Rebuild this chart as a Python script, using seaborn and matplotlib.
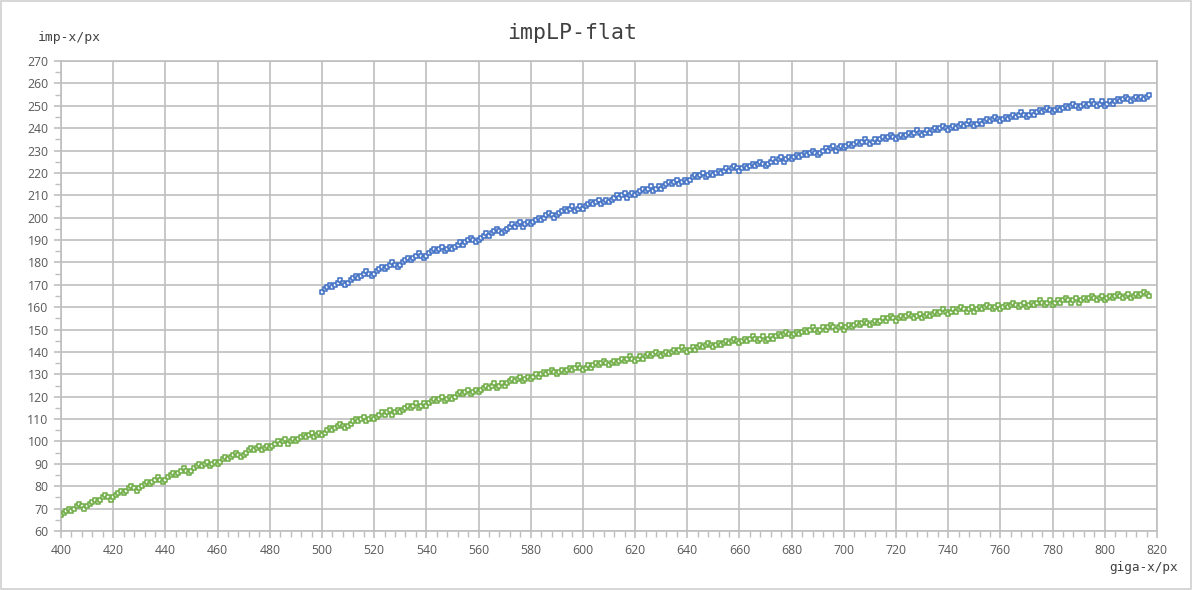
import pandas as pd
import seaborn as sns
import matplotlib.pyplot as plt
from matplotlib.patches import Rectangle
from matplotlib.ticker import MultipleLocator

sns.set_theme(style="white")
plt.rcParams['font.family'] = ['Open Sans', 'DejaVu Sans']

# giga-x / imp-x, one point per pixel
green_x = list(range(400, 818))
green_y = [
    67, 68, 69, 70, 69, 70, 71, 72, 71, 70,
    71, 72, 73, 74, 73, 74, 75, 76, 75, 74,
    75, 76, 77, 78, 77, 78, 79, 80, 79, 78,
    79, 80, 81, 82, 81, 82, 83, 84, 83, 82,
    83, 84, 85, 86, 85, 86, 87, 88, 87, 86,
    87, 88, 89, 90, 89, 90, 91, 89, 90, 91,
    90, 91, 92, 93, 92, 93, 94, 95, 94, 93,
    94, 95, 96, 97, 96, 97, 98, 96, 97, 98,
    97, 98, 99, 100, 99, 100, 101, 99, 100, 101,
    100, 101, 102, 103, 102, 103, 104, 102, 103, 104,
    103, 104, 105, 106, 105, 106, 107, 108, 107, 106,
    107, 108, 109, 110, 109, 110, 111, 109, 110, 111,
    110, 111, 112, 113, 112, 113, 114, 112, 113, 114,
    113, 114, 115, 116, 115, 116, 117, 115, 116, 117,
    116, 117, 118, 119, 118, 119, 120, 118, 119, 120,
    119, 120, 121, 122, 121, 122, 123, 121, 122, 123,
    122, 123, 124, 125, 124, 125, 126, 124, 125, 126,
    125, 126, 127, 128, 127, 128, 129, 127, 128, 129,
    128, 129, 130, 129, 130, 131, 130, 131, 132, 131,
    130, 131, 132, 131, 132, 133, 132, 133, 134, 133,
    132, 133, 134, 133, 134, 135, 134, 135, 136, 135,
    134, 135, 136, 135, 136, 137, 136, 137, 138, 137,
    136, 137, 138, 137, 138, 139, 138, 139, 140, 139,
    138, 139, 140, 139, 140, 141, 140, 141, 142, 141,
    140, 141, 142, 141, 142, 143, 142, 143, 144, 143,
    142, 143, 144, 143, 144, 145, 144, 145, 146, 145,
    144, 145, 146, 145, 146, 147, 146, 145, 146, 147,
    145, 146, 147, 146, 147, 148, 147, 148, 149, 148,
    147, 148, 149, 148, 149, 150, 149, 150, 151, 150,
    149, 150, 151, 150, 151, 152, 151, 150, 151, 152,
    150, 151, 152, 151, 152, 153, 152, 153, 154, 153,
    152, 153, 154, 153, 154, 155, 154, 155, 156, 155,
    154, 155, 156, 155, 156, 157, 156, 155, 156, 157,
    155, 156, 157, 156, 157, 158, 157, 158, 159, 158,
    157, 158, 159, 158, 159, 160, 159, 158, 159, 160,
    158, 159, 160, 159, 160, 161, 160, 159, 160, 161,
    159, 160, 161, 160, 161, 162, 161, 160, 161, 162,
    160, 161, 162, 161, 162, 163, 162, 161, 162, 163,
    161, 162, 163, 162, 163, 164, 163, 162, 163, 164,
    162, 163, 164, 163, 164, 165, 164, 163, 164, 165,
    163, 164, 165, 164, 165, 166, 165, 164, 165, 166,
    164, 165, 166, 165, 166, 167, 166, 165,
]

blue_x = list(range(500, 818))
blue_y = [
    167, 168, 169, 170, 169, 170, 171, 172, 171, 170,
    171, 172, 173, 174, 173, 174, 175, 176, 175, 174,
    175, 176, 177, 178, 177, 178, 179, 180, 179, 178,
    179, 180, 181, 182, 181, 182, 183, 184, 183, 182,
    183, 184, 185, 186, 185, 186, 187, 185, 186, 187,
    186, 187, 188, 189, 188, 189, 190, 191, 190, 189,
    190, 191, 192, 193, 192, 193, 194, 195, 194, 193,
    194, 195, 196, 197, 196, 197, 198, 196, 197, 198,
    197, 198, 199, 200, 199, 200, 201, 202, 201, 200,
    201, 202, 203, 204, 203, 204, 205, 203, 204, 205,
    204, 205, 206, 207, 206, 207, 208, 206, 207, 208,
    207, 208, 209, 210, 209, 210, 211, 209, 210, 211,
    210, 211, 212, 213, 212, 213, 214, 212, 213, 214,
    213, 214, 215, 216, 215, 216, 217, 215, 216, 217,
    216, 217, 218, 219, 218, 219, 220, 218, 219, 220,
    219, 220, 221, 220, 221, 222, 221, 222, 223, 222,
    221, 222, 223, 222, 223, 224, 223, 224, 225, 224,
    223, 224, 225, 226, 225, 226, 227, 225, 226, 227,
    226, 227, 228, 227, 228, 229, 228, 229, 230, 229,
    228, 229, 230, 231, 230, 231, 232, 230, 231, 232,
    231, 232, 233, 232, 233, 234, 233, 234, 235, 234,
    233, 234, 235, 234, 235, 236, 235, 236, 237, 236,
    235, 236, 237, 236, 237, 238, 237, 238, 239, 238,
    237, 238, 239, 238, 239, 240, 239, 240, 241, 240,
    239, 240, 241, 240, 241, 242, 241, 242, 243, 242,
    241, 242, 243, 242, 243, 244, 243, 244, 245, 244,
    243, 244, 245, 244, 245, 246, 245, 246, 247, 246,
    245, 246, 247, 246, 247, 248, 247, 248, 249, 248,
    247, 248, 249, 248, 249, 250, 249, 250, 251, 250,
    249, 250, 251, 250, 251, 252, 251, 250, 251, 252,
    250, 251, 252, 251, 252, 253, 252, 253, 254, 253,
    252, 253, 254, 253, 254, 253, 254, 255,
]

green = pd.DataFrame({'giga': green_x, 'imp': green_y})
blue = pd.DataFrame({'giga': blue_x, 'imp': blue_y})

fig = plt.figure(figsize=(11.92, 5.90), dpi=100)
ax = fig.add_axes([61 / 1192, 59 / 590, 1096 / 1192, 470 / 590])

grid_col = '#bfbfbf'
text_col = '#595959'

sns.scatterplot(data=green, x='giga', y='imp', ax=ax, marker='s', s=12,
                facecolor='#f4f9f0', edgecolor='#70ad47', linewidth=1.15, zorder=3)
sns.scatterplot(data=blue, x='giga', y='imp', ax=ax, marker='s', s=12,
                facecolor='#f0f4fb', edgecolor='#4472c4', linewidth=1.15, zorder=3)

ax.set_xlim(400, 820)
ax.set_ylim(60, 270)
ax.xaxis.set_major_locator(MultipleLocator(20))
ax.xaxis.set_minor_locator(MultipleLocator(4))
ax.yaxis.set_major_locator(MultipleLocator(10))
ax.yaxis.set_minor_locator(MultipleLocator(5))

ax.grid(True, which='major', color=grid_col, linewidth=1.2)
ax.set_axisbelow(True)
for sp in ax.spines.values():
    sp.set_color(grid_col)
    sp.set_linewidth(1.2)

ax.tick_params(which='both', direction='out', colors=grid_col, labelcolor=text_col,
               labelsize=8.8, left=True, bottom=True)
ax.tick_params(which='major', length=5, width=1.2, pad=4)
ax.tick_params(which='minor', length=4, width=1.0)
ax.set_xlabel('')
ax.set_ylabel('')

fig.text(0.48, 0.944, 'impLP-flat', family='DejaVu Sans Mono', fontsize=15.5,
         color='#404040', ha='center', va='center')
fig.text(38 / 1192, 1 - 37 / 590, 'imp-x/px', family='DejaVu Sans Mono', fontsize=9.4,
         color='#404040', ha='left', va='center')
fig.text(1178 / 1192, 1 - 567 / 590, 'giga-x/px', family='DejaVu Sans Mono', fontsize=9.2,
         color='#404040', ha='right', va='center')

# chart border
fig.patches.append(Rectangle((0.0008, 0.0017), 0.9984, 0.9966, transform=fig.transFigure,
                             fill=False, edgecolor='#d0d0d0', linewidth=1.2))

fig.savefig('out.png', dpi=100)
